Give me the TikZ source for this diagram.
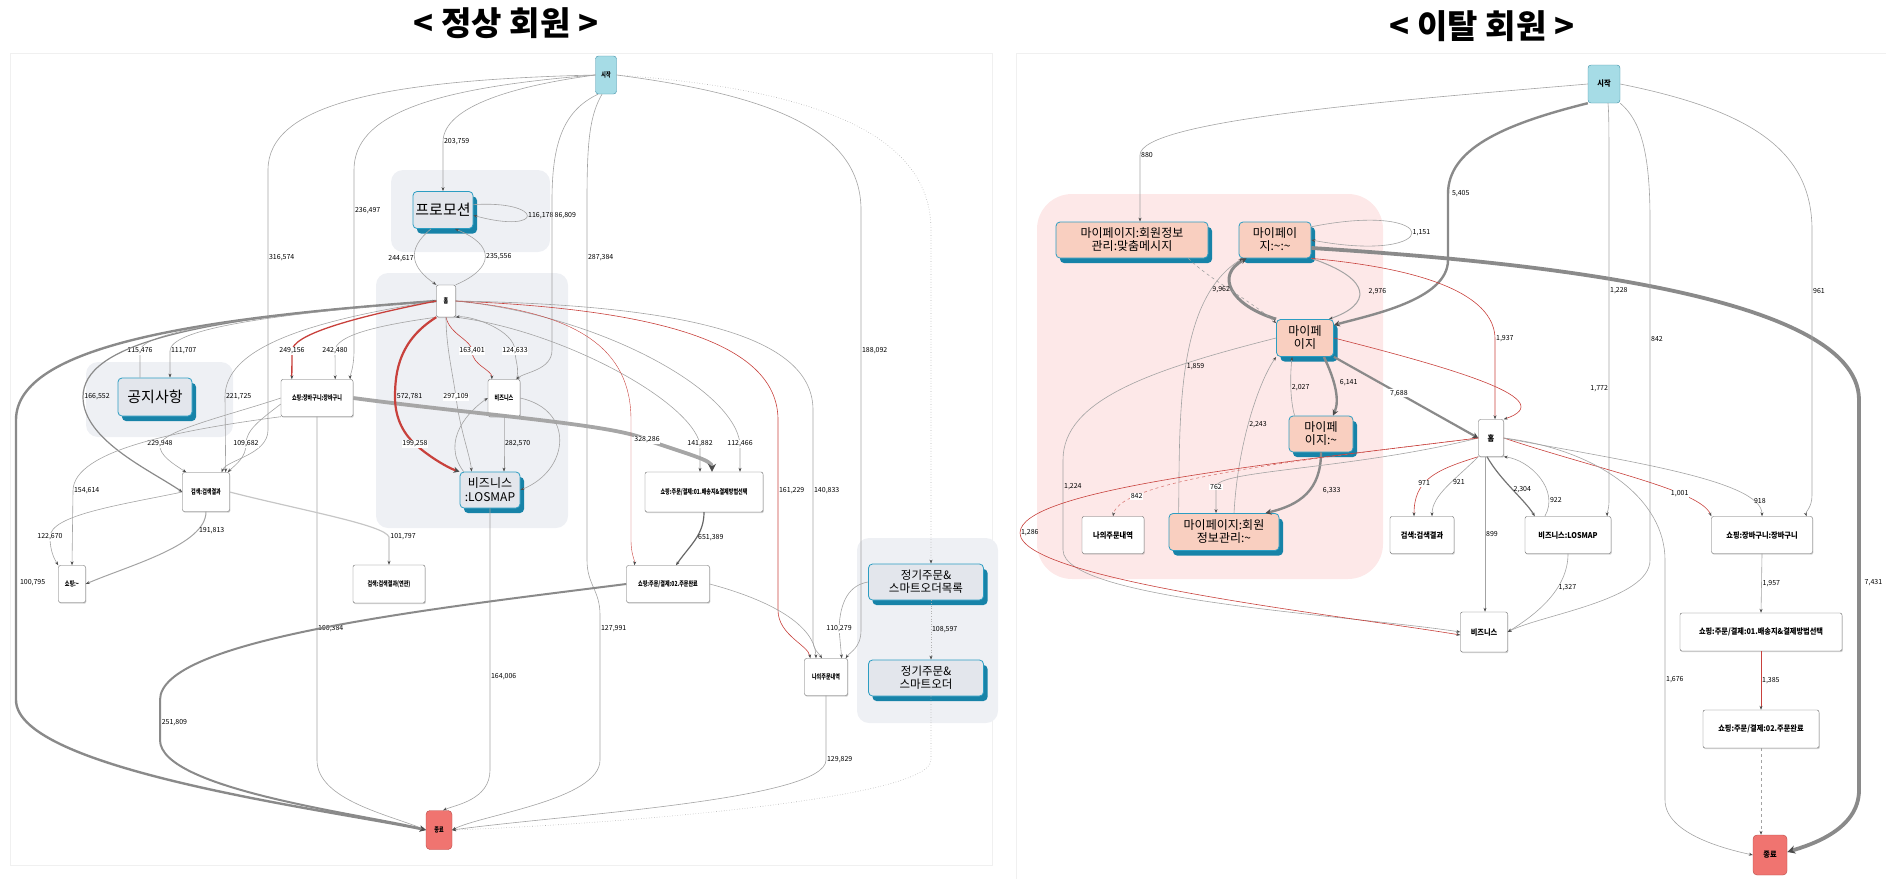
\documentclass[tikz,border=0pt]{standalone}
\usepackage{fontspec}
\usepackage{graphicx}
\setmainfont{Noto Sans CJK KR}
\usetikzlibrary{arrows.meta,shadows}

\definecolor{startblue}{HTML}{A6DCE6}
\definecolor{startedge}{HTML}{3F8FA6}
\definecolor{endred}{HTML}{F07470}
\definecolor{endedge}{HTML}{B84A47}
\definecolor{hlfill}{HTML}{E3E6EC}
\definecolor{hledge}{HTML}{2C9DC2}
\definecolor{hlshadow}{HTML}{1783A8}
\definecolor{peach}{HTML}{F9CFC0}
\definecolor{grpgray}{HTML}{EEF0F4}
\definecolor{grppink}{HTML}{FDE8E8}
\definecolor{edgegray}{HTML}{A3A3A3}
\definecolor{edgedark}{HTML}{8A8A8A}
\definecolor{edgered}{HTML}{C8413C}

\newcommand{\lsm}[1]{\scalebox{0.72}[1]{\fontsize{7}{8}\selectfont\bfseries #1}}
\newcommand{\rsm}[1]{\scalebox{0.9}[1]{\fontsize{8}{9}\selectfont\bfseries #1}}

\tikzstyle{act}=[rectangle,rounded corners=2pt,draw=black!60,fill=white,inner sep=1pt,drop shadow={shadow xshift=0.8pt,shadow yshift=-1.2pt,opacity=0.35}]
\tikzstyle{hact}=[rectangle,rounded corners=4pt,draw=hledge,line width=0.8pt,fill=hlfill,inner sep=1pt,align=center,drop shadow={shadow xshift=4pt,shadow yshift=-5pt,fill=hlshadow,opacity=1}]
\tikzstyle{pact}=[hact,fill=peach]
\tikzstyle{sv}=[rectangle,rounded corners=3pt,draw=startedge,fill=startblue,inner sep=0pt]
\tikzstyle{ev}=[rectangle,rounded corners=4pt,draw=endedge,fill=endred,inner sep=0pt]
\tikzstyle{grp}=[fill=grpgray,rounded corners=12pt]
\tikzstyle{gedge}=[draw=edgegray,line width=0.6pt,-{Stealth[length=4pt,width=3pt,color=black!70]}]
\tikzstyle{redge}=[draw=edgered,line width=0.6pt,-{Stealth[length=4pt,width=3pt,color=black!70]}]
\tikzstyle{tedge}=[draw=edgedark,line width=2.4pt,-{Stealth[length=6pt,width=6pt,color=black!70]}]
\tikzstyle{vtedge}=[draw=edgedark,line width=3.8pt,-{Stealth[length=8pt,width=8pt,color=black!70]}]
\tikzstyle{dedge}=[gedge,dotted,draw=gray!60]
\tikzstyle{lbl}=[font=\fontsize{7}{8}\selectfont,inner sep=0.8pt,text=black]

\begin{document}
\begin{tikzpicture}[x=1pt,y=-1pt]
        \useasboundingbox (0,0) rectangle (1886,878);
        % titles and frames
        \draw (506,23) node[font=\bfseries\fontsize{33}{35}\selectfont](ltitle){< 정상 회원 >};
        \draw (1482,26) node[font=\bfseries\fontsize{33}{35}\selectfont](rtitle){< 이탈 회원 >};
        \draw[gray!12,line width=0.8pt] (10,53) rectangle (992,865);
        \draw[gray!12,line width=0.8pt] (1016,53) rectangle (1895,890);
        %
        \fill[grp] (391,170) rectangle (550,252);
        \fill[grp] (376,273) rectangle (568,528);
        \fill[grp] (86,362) rectangle (233,437);
        \fill[grp] (857,538) rectangle (998,723);
        \fill[grppink,rounded corners=35pt] (1037,194) rectangle (1383,579);
        %
        % left nodes
        \draw (606,75) node[sv,minimum width=21pt,minimum height=38pt](lstart){\lsm{시작}};
        \draw (443,210) node[hact,minimum width=60pt,minimum height=37pt,font=\fontsize{15}{16}\selectfont](promo){프로모션};
        \draw (446,301) node[act,minimum width=19pt,minimum height=32pt](lhome){\lsm{홈}};
        \draw (155,397) node[hact,minimum width=74pt,minimum height=38pt,font=\fontsize{15}{16}\selectfont](notice){공지사항};
        \draw (317,398) node[act,minimum width=72pt,minimum height=37pt](lcart){\lsm{쇼핑:장바구니:장바구니}};
        \draw (504,398) node[act,minimum width=32pt,minimum height=37pt](lbiz){\lsm{비즈니스}};
        \draw (490,490) node[hact,minimum width=60pt,minimum height=36pt,font=\fontsize{12}{14}\selectfont](llos){비즈니스\\:LOSMAP};
        \draw (206,492) node[act,minimum width=47pt,minimum height=39pt](lsearch){\lsm{검색:검색결과}};
        \draw (704,492) node[act,minimum width=118pt,minimum height=40pt](lord1){\lsm{쇼핑:주문/결제:01.배송지\&결제방법선택}};
        \draw (72,584) node[act,minimum width=27pt,minimum height=37pt](lshop){\lsm{쇼핑:\textasciitilde}};
        \draw (389,584) node[act,minimum width=72pt,minimum height=38pt](lsearch2){\lsm{검색:검색결과(연관)}};
        \draw (668,584) node[act,minimum width=83pt,minimum height=37pt](lord2){\lsm{쇼핑:주문/결제:02.주문완료}};
        \draw (826,677) node[act,minimum width=43pt,minimum height=37pt](lmyord){\lsm{나의주문내역}};
        \draw (926,582) node[hact,minimum width=115pt,minimum height=36pt,font=\fontsize{11.5}{13}\selectfont](reg1){정기주문\&\\스마트오더목록};
        \draw (926,678) node[hact,minimum width=115pt,minimum height=36pt,font=\fontsize{11.5}{13}\selectfont](reg2){정기주문\&\\스마트오더};
        \draw (439,830) node[ev,minimum width=26pt,minimum height=39pt](lend){\lsm{종료}};
        %
        % right nodes
        \draw (1604,84) node[sv,minimum width=32pt,minimum height=38pt](rstart){\rsm{시작}};
        \draw (1132,240) node[pact,minimum width=152pt,minimum height=36pt,font=\fontsize{12}{13}\selectfont](mymsg){마이페이지:회원정보\\관리:맞춤메시지};
        \draw (1275,240) node[pact,minimum width=72pt,minimum height=36pt,font=\fontsize{12}{13}\selectfont](myany2){마이페이\\지:\textasciitilde:\textasciitilde};
        \draw (1305,338) node[pact,minimum width=57pt,minimum height=37pt,font=\fontsize{12}{13}\selectfont](mypage){마이페\\이지};
        \draw (1321,434) node[pact,minimum width=64pt,minimum height=36pt,font=\fontsize{12}{13}\selectfont](myany){마이페\\이지:\textasciitilde};
        \draw (1224,532) node[pact,minimum width=110pt,minimum height=37pt,font=\fontsize{12}{13}\selectfont](myinfo){마이페이지:회원\\정보관리:\textasciitilde};
        \draw (1113,535) node[act,minimum width=62pt,minimum height=37pt](rmyord){\rsm{나의주문내역}};
        \draw (1491,438) node[act,minimum width=25pt,minimum height=37pt](rhome){\rsm{홈}};
        \draw (1422,535) node[act,minimum width=64pt,minimum height=37pt](rsearch){\rsm{검색:검색결과}};
        \draw (1568,535) node[act,minimum width=86pt,minimum height=37pt](rlos){\rsm{비즈니스:LOSMAP}};
        \draw (1762,535) node[act,minimum width=101pt,minimum height=37pt](rcart){\rsm{쇼핑:장바구니:장바구니}};
        \draw (1484,632) node[act,minimum width=47pt,minimum height=40pt](rbiz){\rsm{비즈니스}};
        \draw (1761,632) node[act,minimum width=162pt,minimum height=38pt](rord1){\rsm{쇼핑:주문/결제:01.배송지\&결제방법선택}};
        \draw (1761,729) node[act,minimum width=116pt,minimum height=38pt](rord2){\rsm{쇼핑:주문/결제:02.주문완료}};
        \draw (1770,855) node[ev,minimum width=34pt,minimum height=40pt](rend){\rsm{종료}};
        %
        % left connectors
        \draw[gedge] (lstart.west) .. controls (520,85) and (443,105) .. (443,142) node[lbl,right]{203,759} -- (promo.north);
        \draw[gedge] (lstart.west) .. controls (430,88) and (354,115) .. (354,170) -- (354,211) node[lbl,right]{236,497} -- (354,350) .. controls (354,368) and (350,375) .. ([xshift=-3pt]lcart.north east);
        \draw[gedge] (lstart.west) .. controls (380,80) and (268,105) .. (268,170) -- (268,258) node[lbl,right]{316,574} -- (268,430) .. controls (268,455) and (226,460) .. ([xshift=-8pt]lsearch.north east);
        \draw[gedge] (promo.10) .. controls (545,200) and (545,235) .. (promo.-10) node[lbl,right,pos=0.5]{116,178\,86,809};
        \draw[gedge] ([xshift=-12pt]promo.south) .. controls (405,250) and (412,268) .. (lhome.north west) node[lbl,left,pos=0.5]{244,617};
        \draw[gedge] (lhome.north east) .. controls (495,268) and (495,245) .. ([xshift=12pt]promo.south) node[lbl,right,pos=0.5]{235,556};
        \draw[gedge] ([xshift=-4pt]lstart.south) .. controls (590,115) and (587,140) .. (587,200) -- (587,258) node[lbl,right]{287,384} -- (587,560) .. controls (587,585) and (600,590) .. (600,615) -- (600,629) node[lbl,right]{127,991} -- (600,760) .. controls (600,800) and (480,815) .. (lend.east);
        \draw[gedge] ([xshift=-8pt]lstart.south) .. controls (565,110) and (552,140) .. (552,200) -- (552,350) .. controls (552,370) and (525,372) .. ([xshift=-4pt]lbiz.north east);
        \draw[gedge] (lstart.east) .. controls (770,95) and (861,130) .. (861,210) -- (861,351) node[lbl,right]{188,092} -- (861,630) .. controls (861,648) and (850,652) .. ([xshift=-2pt]lmyord.north east);
        \draw[dedge] (lstart.east) .. controls (830,90) and (931,140) .. (931,230) -- ([xshift=5pt]reg1.north);
        \draw[dedge] ([xshift=5pt]reg1.south) -- ([xshift=5pt]reg2.north) node[lbl,right,pos=0.5]{108,597};
        \draw[dedge] ([xshift=5pt]reg2.south) -- (931,760) .. controls (931,800) and (600,825) .. (lend.east);
        \draw[gedge] (lmyord.south) -- (826,760) node[lbl,right]{129,829} .. controls (826,800) and (560,815) .. (lend.east);
        \draw[tedge] (lhome.west) .. controls (200,318) and (16,345) .. (16,420) -- (16,583) node[lbl,right=2pt]{100,795} -- (16,700) .. controls (16,770) and (330,810) .. (lend.west);
        \draw[gedge] (lhome.west) .. controls (260,315) and (170,330) .. (170,351) node[lbl,right]{111,707} -- ([xshift=15pt]notice.north);
        \draw[gedge] ([xshift=-15pt]notice.north) -- (140,351) node[lbl,fill=white]{115,476} .. controls (140,330) and (280,312) .. (lhome.west);
        \draw[gedge,draw=edgedark,line width=1.2pt] (lhome.west) .. controls (190,318) and (83,345) .. (83,397) node[lbl,right]{166,552} .. controls (83,440) and (150,470) .. (lsearch.west);
        \draw[gedge] (lhome.west) .. controls (300,322) and (225,350) .. (225,397) node[lbl,right]{221,725} -- ([xshift=-4pt]lsearch.north east);
        \draw[redge,line width=1.3pt] (lhome.west) .. controls (350,318) and (292,335) .. (292,351) node[lbl,fill=white]{249,156} -- ([xshift=11pt]lcart.north west);
        \draw[gedge] (lhome.south west) .. controls (380,325) and (335,335) .. (335,351) node[lbl,fill=white]{242,480} -- ([xshift=-18pt]lcart.north east);
        \draw[vtedge,draw=gray!70] (lcart.east) .. controls (480,415) and (620,425) .. (647,440) node[lbl,fill=white]{328,286} .. controls (690,455) and (712,460) .. ([xshift=8pt]lord1.north);
        \draw[gedge] (lhome.south east) .. controls (560,330) and (690,400) .. (700,444) node[lbl,fill=white]{141,882} -- ([xshift=-4pt]lord1.north);
        \draw[gedge] (lhome.east) .. controls (600,315) and (735,390) .. (740,444) node[lbl,fill=white]{112,466} -- ([xshift=36pt]lord1.north);
        \draw[redge,line width=0.4pt] (lhome.east) .. controls (580,312) and (631,350) .. (631,420) -- (631,540) .. controls (631,555) and (635,560) .. ([xshift=8pt]lord2.north west);
        \draw[redge] (lhome.east) .. controls (680,310) and (778,350) .. (778,420) -- (778,491) node[lbl,right]{161,229} -- (778,610) .. controls (778,635) and (808,645) .. ([xshift=6pt]lmyord.north west);
        \draw[gedge] (lhome.east) .. controls (700,305) and (813,340) .. (813,410) -- (813,491) node[lbl,right]{140,833} -- (813,640) .. controls (813,650) and (818,652) .. ([xshift=-4pt]lmyord.north);
        \draw[gedge] (reg1.west) .. controls (850,585) and (840,600) .. (839,629) node[lbl,fill=white]{110,279} -- ([xshift=-6pt]lmyord.north east);
        \draw[gedge] (lord2.east) .. controls (770,600) and (815,625) .. ([xshift=-10pt]lmyord.north);
        \draw[redge] (lhome.south) .. controls (450,335) and (472,340) .. (472,351) node[lbl,fill=white]{163,401} .. controls (472,365) and (492,370) .. ([xshift=4pt]lbiz.north west);
        \draw[gedge] ([xshift=-4pt]lbiz.north east) .. controls (520,370) and (515,360) .. (515,351) node[lbl,fill=white]{124,633} .. controls (515,330) and (470,315) .. (lhome.south east);
        \draw[redge,line width=2.2pt,-{Stealth[length=6pt,width=6pt,color=black!70]}] (lhome.south west) .. controls (400,340) and (395,370) .. (395,397) node[lbl,right]{572,781} .. controls (395,420) and (405,435) .. (415,444) node[lbl,fill=white]{199,258} .. controls (428,456) and (448,468) .. (llos.north west);
        \draw[gedge] (lhome.south) .. controls (446,345) and (452,370) .. (456,397) node[lbl,fill=white]{297,109} .. controls (460,430) and (470,455) .. ([xshift=12pt]llos.north west);
        \draw[gedge] (lbiz.south) -- (504,444) node[lbl,right]{282,570} -- ([xshift=14pt]llos.north);
        \draw[gedge] ([xshift=4pt]llos.north west) .. controls (440,440) and (470,410) .. (lbiz.west);
        \draw[gedge] (lbiz.east) .. controls (575,410) and (570,470) .. (llos.east);
        \draw[gedge] (llos.south) -- (490,677) node[lbl,right]{164,006} -- (490,770) .. controls (490,800) and (455,805) .. ([xshift=4pt]lend.north);
        \draw[gedge] (lcart.south) -- (317,629) node[lbl,right]{160,384} -- (317,760) .. controls (317,800) and (390,815) .. (lend.west);
        \draw[tedge,line width=2pt] (lord2.west) .. controls (420,610) and (160,640) .. (160,700) -- (160,723) node[lbl,right]{251,809} -- (160,740) .. controls (160,790) and (370,815) .. (lend.west);
        \draw[gedge,draw=black!60,line width=1.2pt] (lord1.south) .. controls (704,535) and (690,545) .. ([xshift=8pt]lord2.north) node[lbl,right,pos=0.45]{651,389};
        \draw[gedge] (lcart.west) .. controls (230,415) and (165,430) .. (160,444) node[lbl,fill=white]{229,948} .. controls (158,455) and (175,465) .. ([xshift=4pt]lsearch.north west);
        \draw[gedge] ([yshift=-6pt]lcart.west) .. controls (260,420) and (246,430) .. (246,444) node[lbl,fill=white]{109,682} .. controls (246,458) and (235,465) .. ([xshift=-2pt]lsearch.north east);
        \draw[gedge] (lcart.south west) .. controls (180,430) and (73,450) .. (73,491) node[lbl,right]{154,614} -- (lshop.north);
        \draw[gedge,line width=1pt] (lsearch.south) .. controls (206,545) and (130,565) .. (lshop.east) node[lbl,right,pos=0.2]{191,813};
        \draw[gedge] (lsearch.west) .. controls (120,505) and (50,515) .. (50,537) node[lbl,fill=white]{122,670} .. controls (50,552) and (55,560) .. (lshop.north west);
        \draw[gedge,line width=1.2pt,draw=gray!45] (lsearch.east) .. controls (300,510) and (385,525) .. (389,537) node[lbl,right]{101,797} -- (lsearch2.north);
        %
        % right connectors
        \draw[gedge] (rstart.west) .. controls (1400,100) and (1140,120) .. (1140,155) node[lbl,right]{880} -- ([xshift=8pt]mymsg.north);
        \draw[tedge] (rstart.south west) .. controls (1500,125) and (1448,150) .. (1448,194) node[lbl,right=2pt]{5,405} -- (1448,260) .. controls (1448,300) and (1370,315) .. ([yshift=-6pt]mypage.north east);
        \draw[gedge] (myany2.20) .. controls (1445,200) and (1445,265) .. (myany2.east) node[lbl,right,pos=0.5]{1,151};
        \draw[vtedge] ([yshift=-8pt]myany2.east) .. controls (1500,260) and (1859,290) .. (1859,400) -- (1859,583) node[lbl,right=3pt]{7,431} -- (1859,790) .. controls (1859,830) and (1810,845) .. ([yshift=3pt]rend.east);
        \draw[gedge] (rstart.east) .. controls (1750,110) and (1812,150) .. (1812,230) -- (1812,291) node[lbl,right]{961} -- (1812,495) .. controls (1812,508) and (1805,512) .. ([xshift=-6pt]rcart.north east);
        \draw[gedge] ([xshift=4pt]rstart.south) .. controls (1609,115) and (1609,130) .. (1609,200) -- (1609,291) node[lbl,right]{1,228} -- (1609,389) node[lbl,left]{1,772} -- (1609,500) .. controls (1609,510) and (1607,512) .. ([xshift=-4pt]rlos.north east);
        \draw[gedge] (rstart.south east) .. controls (1640,120) and (1650,150) .. (1650,220) -- (1650,339) node[lbl,right]{842} -- (1650,560) .. controls (1650,600) and (1540,615) .. (rbiz.east);
        \draw[gedge,line width=1pt] (myany2.south east) .. controls (1375,280) and (1370,305) .. ([xshift=-5pt]mypage.north east) node[lbl,right=8pt,pos=0.5]{2,976};
        \draw[tedge,line width=3pt] (mypage.north west) .. controls (1230,305) and (1215,275) .. ([xshift=8pt]myany2.south west) node[lbl,left,pos=0.5]{9,962};
        \draw[redge] (myany2.south east) .. controls (1440,270) and (1495,300) .. (1495,339) node[lbl,right]{1,937} -- ([xshift=4pt]rhome.north);
        \draw[gedge,dashed] ([xshift=-20pt]mymsg.south east) .. controls (1210,280) and (1250,300) .. ([yshift=-4pt]mypage.north west);
        \draw[tedge] ([xshift=-10pt]mypage.south east) .. controls (1335,380) and (1340,400) .. ([xshift=12pt]myany.north) node[lbl,right=4pt,pos=0.4]{6,141};
        \draw[gedge] ([xshift=6pt]myany.north west) .. controls (1290,400) and (1290,375) .. ([xshift=16pt]mypage.south west) node[lbl,right,pos=0.5]{2,027};
        \draw[tedge,line width=2.2pt] (mypage.south east) -- (rhome.west) node[lbl,fill=white,pos=0.45]{7,688};
        \draw[redge] (mypage.east) .. controls (1460,370) and (1560,400) .. (rhome.north east);
        \draw[tedge] (myany.south) .. controls (1321,490) and (1300,505) .. ([xshift=-14pt]myinfo.north east) node[lbl,right=12pt,pos=0.45]{6,333};
        \draw[gedge] ([xshift=10pt]myinfo.north) .. controls (1238,440) and (1260,380) .. (mypage.south west) node[lbl,right,pos=0.45]{2,243};
        \draw[gedge] ([xshift=10pt]myinfo.north west) .. controls (1180,420) and (1175,300) .. ([xshift=4pt]myany2.south west) node[lbl,right,pos=0.5]{1,859};
        \draw[gedge,dashed,draw=edgered!70] (rhome.west) .. controls (1300,460) and (1120,480) .. (rmyord.north) node[lbl,fill=white,pos=0.8]{842};
        \draw[gedge] (rhome.west) .. controls (1350,470) and (1216,470) .. (1216,487) node[lbl,fill=white]{762} -- ([xshift=-8pt]myinfo.north);
        \draw[gedge] (mypage.west) .. controls (1150,370) and (1063,400) .. (1063,460) -- (1063,487) node[lbl,right]{1,224} -- (1063,550) .. controls (1063,600) and (1350,615) .. (rbiz.west);
        \draw[redge] (rhome.west) .. controls (1260,465) and (1020,490) .. (1020,533) node[lbl,right]{1,286} .. controls (1020,580) and (1340,615) .. ([yshift=-3pt]rbiz.west);
        \draw[redge] (rhome.south west) .. controls (1435,470) and (1414,480) .. ([xshift=-8pt]rsearch.north) node[lbl,pos=0.6,fill=white]{971};
        \draw[gedge] (rhome.south west) .. controls (1455,480) and (1432,495) .. ([xshift=10pt]rsearch.north) node[lbl,pos=0.4,right]{921};
        \draw[gedge,draw=black!55,line width=1.2pt] ([xshift=-4pt]rhome.south) .. controls (1500,480) and (1525,500) .. ([xshift=10pt]rlos.north west) node[lbl,pos=0.5,right]{2,304};
        \draw[gedge] ([xshift=20pt]rlos.north west) .. controls (1560,490) and (1530,460) .. (rhome.south east) node[lbl,pos=0.2,right]{922};
        \draw[gedge] ([xshift=-6pt]rhome.south) -- ([xshift=1pt]rbiz.north) node[lbl,pos=0.5,right]{899};
        \draw[gedge] (rlos.south) .. controls (1568,590) and (1535,615) .. (rbiz.east) node[lbl,pos=0.35,right]{1,327};
        \draw[redge] (rhome.east) .. controls (1600,470) and (1700,490) .. (rcart.north west) node[lbl,pos=0.7,fill=white]{1,001};
        \draw[gedge] (rhome.east) .. controls (1620,460) and (1762,480) .. (rcart.north) node[lbl,pos=0.85,right]{918};
        \draw[gedge] (rcart.south) -- (rord1.north) node[lbl,right,pos=0.5]{1,957};
        \draw[redge] (rord1.south) -- (rord2.north) node[lbl,right,pos=0.5]{1,385};
        \draw[gedge,dashed] (rord2.south) -- ([xshift=-9pt]rend.north);
        \draw[gedge] (rhome.east) .. controls (1600,450) and (1665,500) .. (1665,560) -- (1665,680) node[lbl,right]{1,676} -- (1665,800) .. controls (1665,835) and (1730,850) .. (rend.west);
        %;
\end{tikzpicture}
\end{document}
